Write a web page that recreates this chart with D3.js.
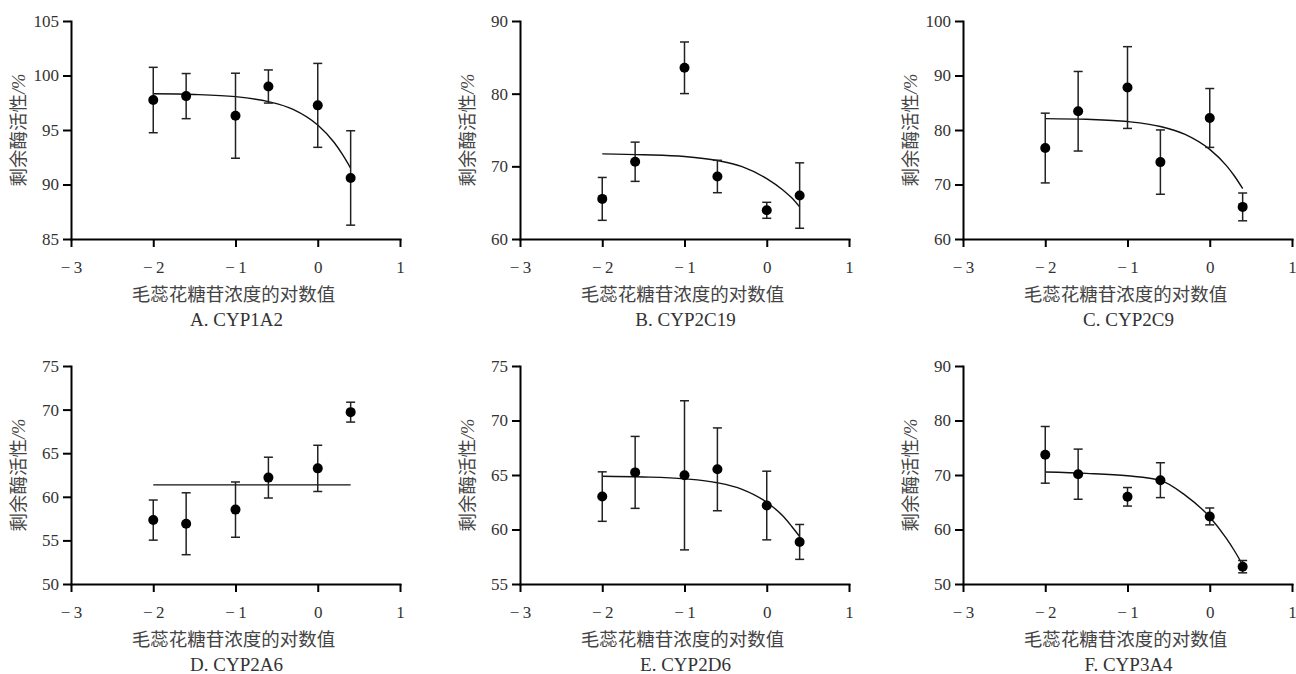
<!DOCTYPE html>
<html>
<head>
<meta charset="utf-8">
<script src="https://cdn.jsdelivr.net/npm/d3@7"></script>
<style>
    body { margin: 0; background: #fff; }
    svg text { fill: #333; }
    .axis path, .axis line { stroke: #000; stroke-width: 2; }
    .axis text { font-family: "Liberation Serif", "Times New Roman", "DejaVu Serif", serif; font-size: 17px; fill: #333; }
    .x-label, .y-label { font-family: "Noto Sans CJK SC", sans-serif; font-size: 18.5px; fill: #444; }
    .panel-title { font-family: "Liberation Serif", "Times New Roman", "DejaVu Serif", serif; font-size: 19px; fill: #333; }
    .fit { fill: none; stroke: #111; stroke-width: 1.4; }
    .err { stroke: #222; stroke-width: 1.5; }
    .dot { fill: #000; }
</style>
</head>
<body>
<svg id="chart" width="1296" height="674"></svg>
<script>
// log10 of concentration used for every panel
const logConc = [-2, -1.6, -1, -0.6, 0, 0.4];
const xTicks = [-3, -2, -1, 0, 1];
const fitX = [-2, -1.5, -1, -0.6, -0.3, 0, 0.2, 0.3, 0.4];

const panelTitles = ['A. CYP1A2', 'B. CYP2C19', 'C. CYP2C9', 'D. CYP2A6', 'E. CYP2D6', 'F. CYP3A4'];
const xLabel = '毛蕊花糖苷浓度的对数值';
const yLabel = '剩余酶活性';

// CYP1A2
const meanA = [97.75, 98.11, 96.31, 98.99, 97.26, 90.6];
const errA = [3.0, 2.07, 3.9, 1.52, 3.85, 4.33];
const fitA = [98.32, 98.26, 98.06, 97.6, 96.89, 95.45, 93.85, 92.76, 91.5];
const yTicksA = [85, 90, 95, 100, 105];

// CYP2C19
const meanB = [65.52, 70.63, 83.56, 68.6, 63.95, 65.98];
const errB = [2.95, 2.7, 3.55, 2.23, 1.1, 4.5];
const fitB = [71.72, 71.6, 71.36, 70.8, 69.95, 68.3, 66.7, 65.7, 64.42];
const yTicksB = [60, 70, 80, 90];

// CYP2C9
const meanC = [76.69, 83.44, 87.79, 74.11, 82.21, 65.89];
const errC = [6.4, 7.3, 7.5, 5.9, 5.4, 2.55];
const fitC = [82.09, 81.96, 81.55, 80.65, 79.2, 76.44, 73.51, 71.56, 69.26];
const yTicksC = [60, 70, 80, 90, 100];

// CYP2A6
const meanD = [57.33, 56.91, 58.53, 62.2, 63.26, 69.71];
const errD = [2.3, 3.55, 3.17, 2.34, 2.65, 1.14];
const fitD = [61.37, 61.37, 61.37, 61.37, 61.37, 61.37, 61.37, 61.37, 61.37];
const yTicksD = [50, 55, 60, 65, 70, 75];

// CYP2D6
const meanE = [63.02, 65.24, 64.97, 65.52, 62.2, 58.86];
const errE = [2.27, 3.3, 6.84, 3.8, 3.15, 1.6];
const fitE = [64.88, 64.82, 64.65, 64.29, 63.69, 62.5, 61.21, 60.32, 59.35];
const yTicksE = [55, 60, 65, 70, 75];

// CYP3A4
const meanF = [73.7, 70.15, 66.0, 69.05, 62.4, 53.18];
const errF = [5.2, 4.6, 1.7, 3.2, 1.55, 1.13];
const fitF = [70.55, 70.3, 69.85, 69.0, 66.3, 62.3, 58.4, 56.1, 53.5];
const yTicksF = [50, 60, 70, 80, 90];

class DosePanel {

    constructor(_config, _mean, _err, _fit, _yTicks) {
        this.config = {
            left: _config.left,
            top: _config.top,
            width: 329,
            height: 218,
            title: _config.title
        };
        this.mean = _mean;
        this.err = _err;
        this.fit = _fit;
        this.yTicks = _yTicks;
        this.initVis();
    }

    initVis() {
        let vis = this;
        const svg = d3.select('#chart');

        vis.xScale = d3.scaleLinear()
            .domain([xTicks[0], xTicks[xTicks.length - 1]])
            .range([0, vis.config.width]);

        vis.yScale = d3.scaleLinear()
            .domain(d3.extent(vis.yTicks))
            .range([vis.config.height, 0]);

        vis.chart = svg.append('g')
            .attr('transform', `translate(${vis.config.left},${vis.config.top})`);

        // y-axis
        vis.chart.append('g')
            .attr('class', 'axis y-axis')
            .call(d3.axisLeft(vis.yScale).tickValues(vis.yTicks).tickSize(8).tickSizeOuter(0).tickPadding(4));

        // x-axis, minus sign spaced like the original
        vis.chart.append('g')
            .attr('class', 'axis x-axis')
            .attr('transform', `translate(0,${vis.config.height})`)
            .call(d3.axisBottom(vis.xScale).tickValues(xTicks).tickSize(8).tickSizeOuter(0).tickPadding(14)
                .tickFormat(d => d < 0 ? '\u2212\u2009' + Math.abs(d) : String(d)));

        vis.chart.selectAll('.axis').attr('font-family', null);
        vis.chart.selectAll('.domain').attr('stroke-linecap', 'square');

        // labels
        vis.chart.append('text')
            .attr('class', 'x-label')
            .attr('text-anchor', 'middle')
            .attr('x', vis.config.width / 2 - 2)
            .attr('y', 274)
            .attr('dy', '0.35em')
            .text(xLabel);

        vis.chart.append('text')
            .attr('class', 'panel-title')
            .attr('text-anchor', 'middle')
            .attr('x', vis.config.width / 2 + 1)
            .attr('y', 298)
            .attr('dy', '0.35em')
            .text(vis.config.title);

        const yl = vis.chart.append('text')
            .attr('class', 'y-label')
            .attr('text-anchor', 'middle')
            .attr('transform', `translate(-52,${vis.config.height / 2}) rotate(-90)`)
            .attr('dy', '0.35em');
        yl.append('tspan').text(yLabel);
        yl.append('tspan').style('font-family', '"Liberation Serif", "DejaVu Serif", serif').style('font-style', 'italic').text('/%');

        vis.renderVis();
    }

    renderVis() {
        let vis = this;
        const pts = logConc.map((x, i) => ({ x: x, y: vis.mean[i], e: vis.err[i] }));
        const cap = 4.5;

        // fitted curve
        const line = d3.line()
            .x((d, i) => vis.xScale(fitX[i]))
            .y(d => vis.yScale(d))
            .curve(d3.curveMonotoneX);
        vis.chart.append('path')
            .attr('class', 'fit')
            .attr('d', line(vis.fit));

        // error bars
        const bars = vis.chart.selectAll('.err-g')
            .data(pts)
            .join('g')
            .attr('class', 'err-g');
        bars.append('line')
            .attr('class', 'err')
            .attr('x1', d => vis.xScale(d.x))
            .attr('x2', d => vis.xScale(d.x))
            .attr('y1', d => vis.yScale(d.y - d.e))
            .attr('y2', d => vis.yScale(d.y + d.e));
        [-1, 1].forEach(s => {
            bars.append('line')
                .attr('class', 'err')
                .attr('x1', d => vis.xScale(d.x) - cap)
                .attr('x2', d => vis.xScale(d.x) + cap)
                .attr('y1', d => vis.yScale(d.y + s * d.e))
                .attr('y2', d => vis.yScale(d.y + s * d.e));
        });

        // means
        vis.chart.selectAll('.dot')
            .data(pts)
            .join('circle')
            .attr('class', 'dot')
            .attr('cx', d => vis.xScale(d.x))
            .attr('cy', d => vis.yScale(d.y))
            .attr('r', 5);
    }
}

const cols = [71, 520, 963];
const rows = [21, 366];

new DosePanel({ left: cols[0], top: rows[0], title: panelTitles[0] }, meanA, errA, fitA, yTicksA);
new DosePanel({ left: cols[1], top: rows[0], title: panelTitles[1] }, meanB, errB, fitB, yTicksB);
new DosePanel({ left: cols[2], top: rows[0], title: panelTitles[2] }, meanC, errC, fitC, yTicksC);
new DosePanel({ left: cols[0], top: rows[1], title: panelTitles[3] }, meanD, errD, fitD, yTicksD);
new DosePanel({ left: cols[1], top: rows[1], title: panelTitles[4] }, meanE, errE, fitE, yTicksE);
new DosePanel({ left: cols[2], top: rows[1], title: panelTitles[5] }, meanF, errF, fitF, yTicksF);
</script>
</body>
</html>
